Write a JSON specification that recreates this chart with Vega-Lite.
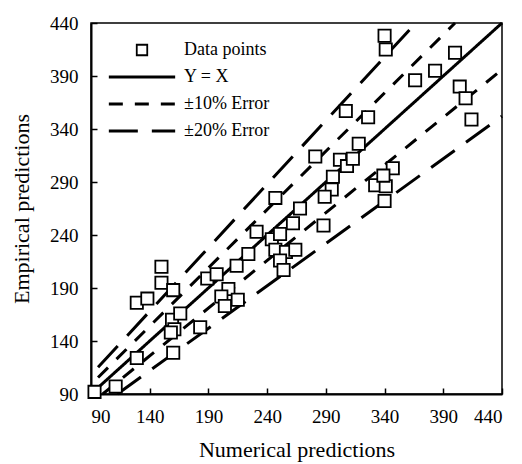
{
  "$schema": "https://vega.github.io/schema/vega-lite/v6.json",
  "width": 411,
  "height": 371,
  "autosize": {"type": "none"},
  "padding": {"left": 91, "top": 23, "right": 20, "bottom": 70},
  "background": "white",
  "config": {
    "view": {"stroke": "black", "strokeWidth": 1.5},
    "font": "Liberation Serif",
    "axis": {
      "domainColor": "black", "domainWidth": 2, "tickColor": "black", "tickWidth": 1.5,
      "tickSize": -6, "grid": false, "labelFont": "Liberation Serif", "labelFontSize": 19,
      "labelColor": "black", "titleFont": "Liberation Serif", "titleFontSize": 22,
      "titleFontWeight": "normal", "titleColor": "black"
    }
  },
  "datasets": {
    "points": [
      {"x": 93, "y": 92, "series": "Data points"},
      {"x": 111, "y": 97, "series": "Data points"},
      {"x": 129, "y": 124, "series": "Data points"},
      {"x": 160, "y": 129, "series": "Data points"},
      {"x": 183, "y": 153, "series": "Data points"},
      {"x": 129, "y": 176, "series": "Data points"},
      {"x": 138, "y": 180, "series": "Data points"},
      {"x": 150, "y": 210, "series": "Data points"},
      {"x": 150, "y": 195, "series": "Data points"},
      {"x": 160, "y": 188, "series": "Data points"},
      {"x": 159, "y": 160, "series": "Data points"},
      {"x": 166, "y": 166, "series": "Data points"},
      {"x": 161, "y": 151, "series": "Data points"},
      {"x": 158, "y": 148, "series": "Data points"},
      {"x": 189, "y": 199, "series": "Data points"},
      {"x": 197, "y": 203, "series": "Data points"},
      {"x": 214, "y": 211, "series": "Data points"},
      {"x": 224, "y": 222, "series": "Data points"},
      {"x": 231, "y": 243, "series": "Data points"},
      {"x": 247, "y": 275, "series": "Data points"},
      {"x": 244, "y": 236, "series": "Data points"},
      {"x": 251, "y": 241, "series": "Data points"},
      {"x": 262, "y": 251, "series": "Data points"},
      {"x": 247, "y": 226, "series": "Data points"},
      {"x": 256, "y": 224, "series": "Data points"},
      {"x": 251, "y": 216, "series": "Data points"},
      {"x": 254, "y": 207, "series": "Data points"},
      {"x": 264, "y": 226, "series": "Data points"},
      {"x": 207, "y": 189, "series": "Data points"},
      {"x": 201, "y": 182, "series": "Data points"},
      {"x": 215, "y": 179, "series": "Data points"},
      {"x": 204, "y": 173, "series": "Data points"},
      {"x": 268, "y": 265, "series": "Data points"},
      {"x": 281, "y": 314, "series": "Data points"},
      {"x": 302, "y": 311, "series": "Data points"},
      {"x": 308, "y": 305, "series": "Data points"},
      {"x": 313, "y": 312, "series": "Data points"},
      {"x": 318, "y": 326, "series": "Data points"},
      {"x": 296, "y": 295, "series": "Data points"},
      {"x": 295, "y": 283, "series": "Data points"},
      {"x": 289, "y": 276, "series": "Data points"},
      {"x": 288, "y": 249, "series": "Data points"},
      {"x": 332, "y": 287, "series": "Data points"},
      {"x": 341, "y": 286, "series": "Data points"},
      {"x": 340, "y": 272, "series": "Data points"},
      {"x": 347, "y": 303, "series": "Data points"},
      {"x": 339, "y": 296, "series": "Data points"},
      {"x": 340, "y": 428, "series": "Data points"},
      {"x": 341, "y": 415, "series": "Data points"},
      {"x": 400, "y": 412, "series": "Data points"},
      {"x": 383, "y": 395, "series": "Data points"},
      {"x": 366, "y": 386, "series": "Data points"},
      {"x": 404, "y": 380, "series": "Data points"},
      {"x": 409, "y": 369, "series": "Data points"},
      {"x": 414, "y": 349, "series": "Data points"},
      {"x": 307, "y": 357, "series": "Data points"},
      {"x": 326, "y": 351, "series": "Data points"}
    ],
    "lines": [
      {"line": "yx", "series": "Y = X", "x": 96, "y": 96},
      {"line": "yx", "series": "Y = X", "x": 440, "y": 440},
      {"line": "p10", "series": "±10% Error", "x": 96, "y": 105.6},
      {"line": "p10", "series": "±10% Error", "x": 400, "y": 440},
      {"line": "m10", "series": "±10% Error", "x": 100, "y": 90},
      {"line": "m10", "series": "±10% Error", "x": 440, "y": 396},
      {"line": "p20", "series": "±20% Error", "x": 96, "y": 115.2},
      {"line": "p20", "series": "±20% Error", "x": 366.7, "y": 440},
      {"line": "m20", "series": "±20% Error", "x": 112.5, "y": 90},
      {"line": "m20", "series": "±20% Error", "x": 440, "y": 352}
    ]
  },
  "layer": [
    {
      "data": {"name": "lines"},
      "mark": {"type": "line", "color": "black", "strokeWidth": 3, "strokeCap": "butt"},
      "encoding": {
        "x": {"field": "x", "type": "quantitative", "scale": {"domain": [90, 440], "nice": false, "zero": false},
          "axis": {"title": "Numerical predictions", "values": [90,115,140,165,190,215,240,265,290,315,340,365,390,415,440],
            "labelExpr": "datum.value % 50 == 40 ? datum.label : ''", "labelPadding": 19, "titlePadding": 13}},
        "y": {"field": "y", "type": "quantitative", "scale": {"domain": [90, 440], "nice": false, "zero": false},
          "axis": {"title": "Empirical predictions", "values": [90,115,140,165,190,215,240,265,290,315,340,365,390,415,440],
            "labelExpr": "datum.value % 50 == 40 ? datum.label : ''", "labelPadding": 19, "titlePadding": 16}},
        "detail": {"field": "line"},
        "strokeDash": {"field": "series", "type": "nominal",
          "scale": {"domain": ["Data points", "Y = X", "±10% Error", "±20% Error"], "range": [[1, 0], [1, 0], [14, 12], [29, 14]]},
          "legend": {
            "title": null, "orient": "none", "legendX": 42, "legendY": 18, "padding": 0,
            "symbolType": "stroke", "symbolSize": 4400, "symbolStrokeWidth": 3, "symbolStrokeColor": "black",
            "labelFont": "Liberation Serif", "labelFontSize": 18, "labelColor": "black", "labelOffset": 33, "rowPadding": 9,
            "encode": {"symbols": {"update": {
              "shape": {"signal": "datum.value === 'Data points' ? 'square' : 'stroke'"},
              "size": {"signal": "datum.value === 'Data points' ? 110 : 4400"},
              "strokeWidth": {"signal": "datum.value === 'Data points' ? 1.8 : 3"},
              "fill": {"value": "white"},
              "stroke": {"value": "black"}
            }}}
          }}
      }
    },
    {
      "data": {"name": "points"},
      "mark": {"type": "point", "shape": "square", "filled": true, "fill": "white", "stroke": "black", "strokeWidth": 1.8, "size": 150, "opacity": 1},
      "encoding": {
        "x": {"field": "x", "type": "quantitative"},
        "y": {"field": "y", "type": "quantitative"},
        "strokeDash": {"field": "series", "type": "nominal"}
      }
    }
  ]
}
